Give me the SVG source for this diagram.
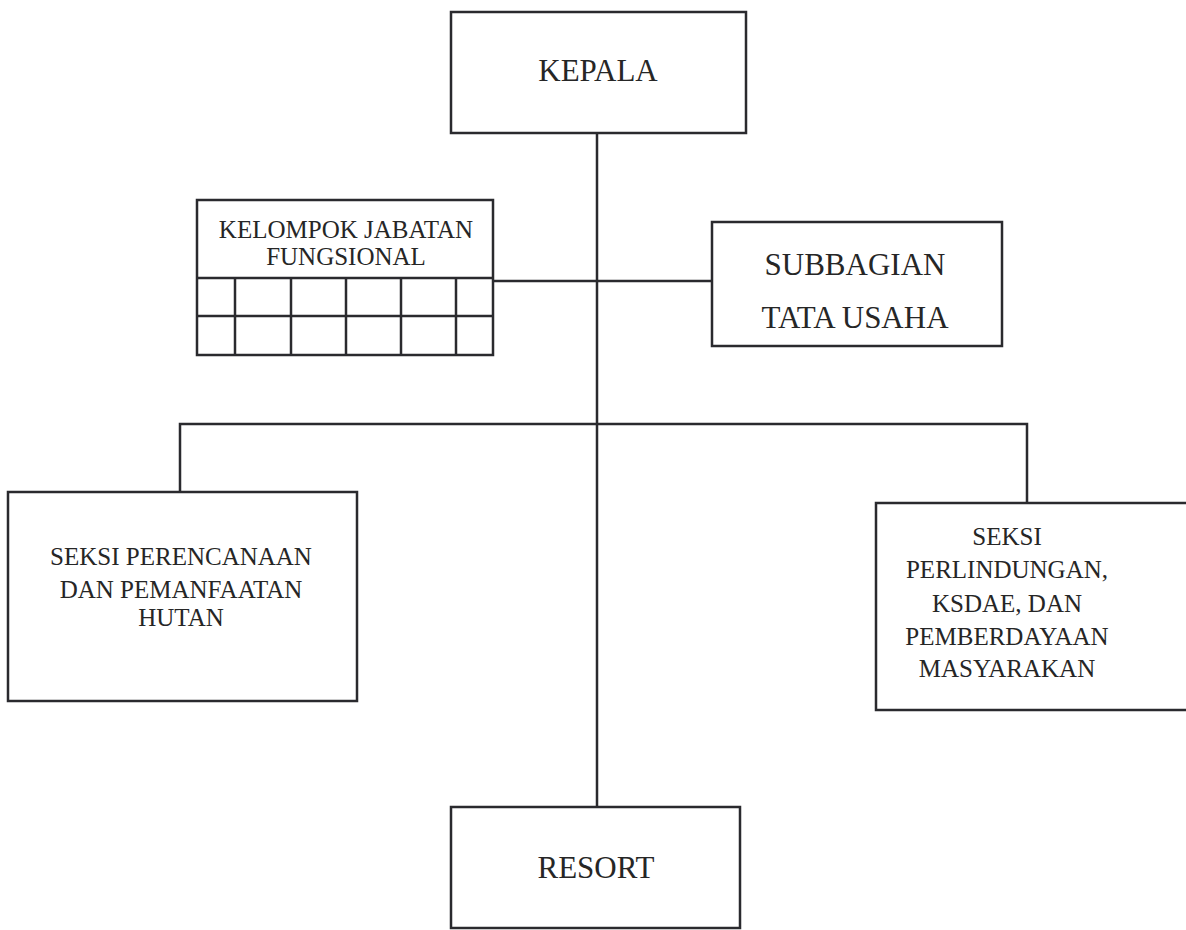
<svg xmlns="http://www.w3.org/2000/svg" width="1186" height="930" viewBox="0 0 1186 930">
<style>
.box{fill:#fff;stroke:#2a2a2e;stroke-width:2.5}
.ln{fill:none;stroke:#2a2a2e;stroke-width:2.5}
.t{font-family:"Liberation Serif","DejaVu Serif",serif;fill:#262626;text-anchor:middle}
.lg{font-size:31px}
.md{font-size:25px}
</style>
<rect width="1186" height="930" fill="#fff"/>
<g id="connectors">
<line class="ln" x1="597" y1="133" x2="597" y2="807"/>
<line class="ln" x1="493" y1="281" x2="712" y2="281"/>
<polyline class="ln" points="180,492 180,424 1027,424 1027,503"/>
</g>
<g id="kepala">
<rect class="box" x="451" y="12" width="295" height="121"/>
<text class="t lg" x="598" y="81">KEPALA</text>
</g>
<g id="kelompok">
<rect class="box" x="197" y="200" width="296" height="155"/>
<line class="ln" x1="197" y1="278" x2="493" y2="278"/>
<line class="ln" x1="197" y1="316" x2="493" y2="316"/>
<line class="ln" x1="235" y1="278" x2="235" y2="355"/>
<line class="ln" x1="291" y1="278" x2="291" y2="355"/>
<line class="ln" x1="346" y1="278" x2="346" y2="355"/>
<line class="ln" x1="401" y1="278" x2="401" y2="355"/>
<line class="ln" x1="456" y1="278" x2="456" y2="355"/>
<text class="t md" x="346" y="238">KELOMPOK JABATAN</text>
<text class="t md" x="346" y="265">FUNGSIONAL</text>
</g>
<g id="subbagian">
<rect class="box" x="712" y="222" width="290" height="124"/>
<text class="t lg" x="855" y="275">SUBBAGIAN</text>
<text class="t lg" x="855" y="328">TATA USAHA</text>
</g>
<g id="seksi-perencanaan">
<rect class="box" x="8" y="492" width="349" height="209"/>
<text class="t md" x="181" y="565">SEKSI PERENCANAAN</text>
<text class="t md" x="181" y="598">DAN PEMANFAATAN</text>
<text class="t md" x="181" y="626">HUTAN</text>
</g>
<g id="seksi-perlindungan">
<rect class="box" x="876" y="503" width="320" height="207"/>
<text class="t md" x="1007" y="545">SEKSI</text>
<text class="t md" x="1007" y="578">PERLINDUNGAN,</text>
<text class="t md" x="1007" y="612">KSDAE, DAN</text>
<text class="t md" x="1007" y="645">PEMBERDAYAAN</text>
<text class="t md" x="1007" y="677">MASYARAKAN</text>
</g>
<g id="resort">
<rect class="box" x="451" y="807" width="289" height="121"/>
<text class="t lg" x="596" y="878">RESORT</text>
</g>
</svg>
